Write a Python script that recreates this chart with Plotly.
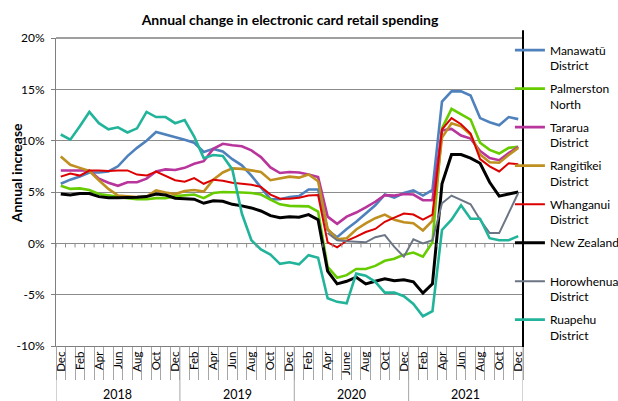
import plotly.graph_objects as go

# ---------------- data ----------------
years = ["2018", "2019", "2020", "2021"]
year_counts = [13, 12, 12, 12]
month_labels = (
    ["Dec", "Jan", "Feb", "Mar", "Apr", "May", "Jun", "Jul", "Aug", "Sep", "Oct", "Nov", "Dec"]
    + ["Jan", "Feb", "Mar", "Apr", "May", "Jun", "Jul", "Aug", "Sep", "Oct", "Nov", "Dec"]
    + ["Jan", "Feb", "Mar", "Apr", "May", "June", "Jul", "Aug", "Sep", "Oct", "Nov", "Dec"]
    + ["Jan", "Feb", "Mar", "Apr", "May", "Jun", "Jul", "Aug", "Sep", "Oct", "Nov", "Dec"]
)

manawatu = [5.8, 6.2, 6.5, 6.9, 6.9, 7.0, 7.5, 8.5, 9.3, 10.0, 10.85, 10.6, 10.4, 10.1, 9.8, 8.9, 9.2,
            8.95, 8.2, 7.6, 6.6, 5.4, 4.3, 4.3, 4.5, 4.6, 5.25, 5.25, 1.3, 0.6, 1.4, 2.1, 2.9, 3.7,
            4.75, 4.45, 4.9, 5.15, 4.65, 5.2, 13.8, 14.8, 14.8, 14.4, 12.2, 11.8, 11.5, 12.3, 12.1]
palmerston = [5.6, 5.3, 5.35, 5.2, 4.8, 4.65, 4.5, 4.4, 4.3, 4.3, 4.4, 4.4, 4.6, 4.7, 4.75, 4.4, 4.9,
              5.0, 5.0, 4.95, 4.9, 4.75, 4.25, 3.8, 3.65, 3.6, 3.6, 3.1, -2.3, -3.35, -3.1, -2.5, -2.5,
              -2.2, -1.7, -1.5, -1.1, -0.9, -1.3, 0.1, 11.2, 13.1, 12.55, 12.05, 9.8, 9.1, 8.75, 9.3, 9.4]
tararua = [7.1, 7.1, 7.1, 7.1, 6.3, 5.9, 5.6, 5.95, 5.95, 6.3, 7.0, 7.2, 7.15, 7.35, 7.75, 8.0, 9.2,
           9.7, 9.55, 9.45, 9.05, 8.4, 7.4, 6.85, 6.95, 6.9, 6.7, 6.45, 2.6, 1.9, 2.6, 3.0, 3.5, 4.05,
           4.7, 4.65, 4.8, 4.75, 4.2, 4.2, 11.0, 11.15, 10.5, 10.2, 9.0, 8.3, 8.1, 8.8, 9.4]
rangitikei = [8.45, 7.65, 7.35, 7.05, 6.15, 5.3, 4.65, 4.6, 4.5, 4.55, 5.15, 4.95, 4.8, 5.1, 5.2, 5.05,
              6.2, 6.9, 7.3, 7.25, 7.1, 6.95, 6.15, 6.35, 6.5, 6.4, 6.7, 6.05, 1.4, 0.4, 0.5, 1.35,
              1.95, 2.45, 2.8, 2.3, 2.05, 1.95, 1.25, 2.2, 10.3, 11.7, 11.4, 10.6, 8.65, 7.9, 7.85, 8.6, 9.3]
whanganui = [6.5, 6.8, 6.6, 7.1, 7.1, 7.05, 7.1, 7.1, 6.7, 6.6, 7.0, 6.55, 6.15, 6.0, 6.35, 5.8, 6.2,
             6.1, 5.9, 5.8, 5.7, 5.5, 4.75, 4.35, 4.35, 4.45, 4.65, 4.7, 0.1, -0.4, 0.25, 0.65, 1.1,
             1.4, 2.1, 2.5, 2.9, 2.8, 2.3, 2.8, 11.1, 12.2, 11.6, 10.7, 8.2, 7.5, 7.0, 7.8, 7.7]
new_zealand = [4.8, 4.7, 4.85, 4.85, 4.55, 4.45, 4.45, 4.45, 4.5, 4.55, 4.8, 4.7, 4.4, 4.35, 4.3, 3.9,
               4.15, 4.1, 3.8, 3.65, 3.45, 3.15, 2.7, 2.5, 2.6, 2.55, 2.8, 2.3, -2.7, -3.95, -3.7, -3.3,
               -3.95, -3.7, -3.45, -3.65, -3.55, -3.75, -4.85, -3.95, 5.8, 8.65, 8.65, 8.3, 7.8, 5.95,
               4.6, 4.8, 5.0]
horowhenua = [None] * 28 + [1.0, 0.3, 0.2, 0.15, 0.1, 0.6, 0.8, -0.35, -1.3, 0.4, 0.0, 0.3, 3.9, 4.65,
                            4.2, 3.8, 2.3, 1.0, 1.0, 3.0, 4.9]
ruapehu = [10.6, 10.1, 11.4, 12.8, 11.7, 11.1, 11.3, 10.8, 11.2, 12.8, 12.3, 12.3, 11.7, 12.0, 10.4, 8.3,
           8.6, 8.5, 7.2, 2.9, 0.3, -0.6, -1.1, -2.0, -1.85, -2.05, -1.15, -1.4, -5.35, -5.7, -5.85,
           -2.95, -3.15, -3.75, -4.8, -4.8, -5.15, -5.9, -7.1, -6.6, 1.3, 2.3, 3.7, 2.4, 2.4, 0.5, 0.3,
           0.3, 0.7]

series = [
    ("Manawatū<br>District", manawatu, "#4F81BD", 2.6),
    ("Palmerston<br>North", palmerston, "#66CC00", 2.6),
    ("Tararua<br>District", tararua, "#B8359C", 2.6),
    ("Rangitīkei<br>District", rangitikei, "#BF8F1F", 2.6),
    ("Whanganui<br>District", whanganui, "#DD0000", 2.0),
    ("New Zealand<br> ", new_zealand, "#000000", 3.0),
    ("Horowhenua<br>District", horowhenua, "#6B7585", 2.0),
    ("Ruapehu<br>District", ruapehu, "#22B49A", 2.6),
]

FONT = "Lato"
n = len(month_labels)
x = list(range(n))

fig = go.Figure()
for i, (name, vals, col, w) in enumerate(series):
    fig.add_trace(go.Scatter(x=x, y=vals, mode="lines", name=name,
                             line=dict(color=col, width=w), legendgroup=str(i)))

# tick labels every second month
tickvals = x[::2]
ticktext = month_labels[::2]
bounds = [i - 0.5 for i in range(n + 1)]

shapes = []
# small ticks on the 0% line
for b in bounds:
    shapes.append(dict(type="line", xref="x", yref="y", x0=b, x1=b, y0=0, y1=-0.4,
                       line=dict(color="#8c8c8c", width=1)))
# year group separators
edges = [-0.5]
for c in year_counts:
    edges.append(edges[-1] + c)
for e in edges:
    shapes.append(dict(type="line", xref="x", yref="paper", x0=e, x1=e, y0=0, y1=-0.18,
                       line=dict(color="#a6a6a6", width=1)))
# plot area top border and right border
shapes.append(dict(type="line", xref="paper", yref="paper", x0=0, x1=1, y0=1, y1=1,
                   line=dict(color="#404040", width=1)))
shapes.append(dict(type="line", xref="paper", yref="paper", x0=1, x1=1, y0=-0.003, y1=1.025,
                   line=dict(color="#000000", width=2)))

annotations = []
for k, yr in enumerate(years):
    cx = (edges[k] + edges[k + 1]) / 2
    annotations.append(dict(x=cx, y=-0.158, xref="x", yref="paper", text=yr, showarrow=False,
                            font=dict(family=FONT, size=12.5, color="#000000"),
                            xanchor="center", yanchor="middle"))
annotations.append(dict(x=-0.084, y=0.56, xref="paper", yref="paper", text="<b>Annual increase</b>",
                        textangle=-90, showarrow=False, font=dict(family=FONT, size=14, color="#000000"),
                        xanchor="center", yanchor="middle"))

fig.update_layout(
    width=618, height=401,
    margin=dict(l=56, r=95, t=38, b=55, autoexpand=False),
    paper_bgcolor="white", plot_bgcolor="white",
    font=dict(family=FONT, size=11, color="#000000"),
    title=dict(text="<b>Annual change in electronic card retail spending</b>",
               x=290 / 618, xref="container", xanchor="center", y=1 - 20 / 401, yanchor="middle",
               font=dict(family=FONT, size=14, color="#000000")),
    showlegend=True,
    legend=dict(x=0.972, xanchor="left", y=1.007, yanchor="top", valign="top",
                font=dict(family=FONT, size=12, color="#000000"),
                bgcolor="rgba(0,0,0,0)", tracegroupgap=4.3, itemwidth=30, maxheight=400),
    shapes=shapes,
    annotations=annotations,
)
fig.update_xaxes(
    range=[-0.5, n - 0.5], tickmode="array", tickvals=tickvals, ticktext=ticktext,
    tickangle=-90, ticks="", showgrid=False, zeroline=False,
    showline=True, linecolor="#7f7f7f", linewidth=1,
    tickfont=dict(family=FONT, size=11.5, color="#000000"),
    minor=dict(tickmode="array", tickvals=bounds, ticks="outside", ticklen=33,
               tickcolor="#a6a6a6", tickwidth=1, showgrid=False),
)
fig.update_yaxes(
    range=[-10, 20], tickmode="array", tickvals=[-10, -5, 0, 5, 10, 15, 20],
    ticktext=["-10%", "-5%", "0%", "5%", "10%", "15%", "20%"],
    showgrid=True, gridcolor="#8c8c8c", gridwidth=1, zeroline=False,
    showline=True, linecolor="#7f7f7f", linewidth=1, ticks="outside", ticklen=4,
    tickcolor="#7f7f7f", ticklabelstandoff=4, tickfont=dict(family=FONT, size=12, color="#000000"),
)

fig.write_html("out.html")
